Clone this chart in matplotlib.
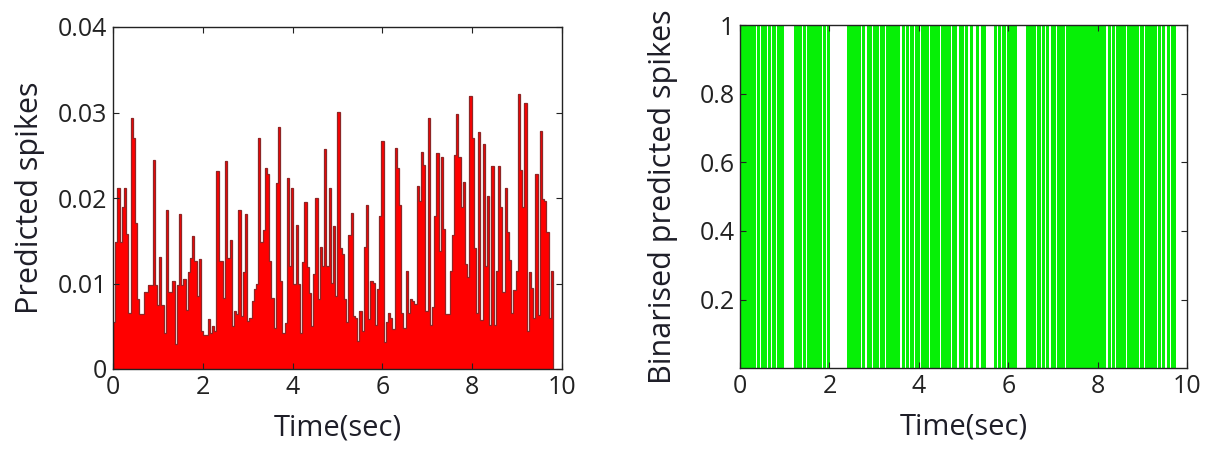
import matplotlib
matplotlib.use('Agg')
import matplotlib.pyplot as plt
import numpy as np

plt.rcParams['font.family'] = ['Open Sans', 'DejaVu Sans']

# sampling step of the prediction (sec)
dt = 0.049

# predicted spike rate per bin, in units of 1e-3
predicted_e3 = [
    5.5, 14.9, 21.2, 14.9, 19.0, 21.2, 15.8, 6.5, 29.4, 27.0,
    17.1, 8.2, 6.4, 6.4, 9.0, 9.0, 9.8, 9.8, 24.5, 9.8,
    7.5, 13.1, 7.5, 4.2, 18.6, 9.0, 9.0, 10.3, 2.9, 9.8,
    18.1, 9.8, 10.5, 6.9, 11.3, 13.0, 15.6, 12.6, 8.5, 12.9,
    4.4, 4.0, 4.0, 5.9, 4.2, 5.0, 4.5, 23.1, 12.6, 12.6,
    8.3, 24.3, 13.0, 15.1, 5.0, 6.8, 6.4, 18.6, 6.2, 11.3,
    18.1, 5.6, 6.0, 8.0, 9.3, 9.9, 27.0, 14.9, 16.2, 23.5,
    22.8, 12.6, 8.3, 4.8, 21.7, 28.3, 10.3, 4.2, 5.4, 22.3,
    12.1, 21.2, 9.9, 16.9, 10.0, 4.2, 12.5, 19.5, 11.9, 8.9,
    5.0, 11.1, 20.0, 8.2, 14.3, 12.0, 25.7, 12.0, 21.2, 10.1,
    16.7, 8.5, 30.1, 14.1, 13.4, 8.2, 5.5, 15.7, 18.3, 6.2,
    6.0, 3.3, 6.8, 4.5, 14.3, 19.2, 5.9, 10.3, 10.1, 5.2,
    9.4, 17.9, 26.7, 3.1, 5.5, 6.6, 6.0, 4.7, 25.8, 23.5,
    19.2, 6.6, 4.8, 11.5, 6.6, 8.2, 8.0, 7.6, 21.4, 19.7,
    25.4, 23.9, 6.8, 29.4, 5.2, 7.2, 17.9, 25.3, 13.8, 24.8,
    16.4, 6.4, 6.4, 11.5, 15.7, 25.0, 29.8, 24.8, 19.0, 21.9,
    12.3, 10.8, 31.9, 27.0, 14.1, 6.6, 27.7, 5.7, 26.3, 12.0,
    20.2, 5.2, 23.7, 5.2, 11.5, 23.7, 19.0, 9.0, 21.2, 16.0,
    12.8, 6.6, 9.2, 11.5, 32.2, 23.3, 19.0, 31.1, 4.5, 11.3,
    9.5, 6.0, 22.8, 6.3, 27.8, 19.9, 19.6, 16.0, 6.0, 11.5,
]

# bins where the binarised output is 0
silent_bins = [
    7, 9, 12, 14, 16, 20, 21, 22, 23, 24, 28, 30, 37, 39,
    41, 42, 43, 44, 45, 46, 47, 48, 55, 57, 60, 63, 66,
    73, 75, 77, 79, 82, 86, 91, 96, 99, 102, 104, 106, 107, 109,
    112, 113, 114, 115, 117, 119, 121, 126, 127, 128, 129, 130,
    135, 137, 139, 141, 144, 148, 167, 169, 171, 176, 182, 184,
    190, 192, 194, 196, 199,
]

y_ticks_left = [0, 0.01, 0.02, 0.03, 0.04]
y_labels_left = ['0', '0.01', '0.02', '0.03', '0.04']
y_ticks_right = [0.2, 0.4, 0.6, 0.8, 1.0]
y_labels_right = ['0.2', '0.4', '0.6', '0.8', '1']
x_ticks = [0, 2, 4, 6, 8, 10]

pred = np.array(predicted_e3) * 1e-3
n = len(pred)
edges = np.arange(n + 1) * dt
binary = np.ones(n)
binary[silent_bins] = 0

text_col = '#1e1e28'

fig = plt.figure(figsize=(12.18, 4.5), dpi=100)
ax1 = fig.add_axes([0.0928, 0.18, 0.3686, 0.76])
ax2 = fig.add_axes([0.6076, 0.182, 0.367, 0.762])

ax1.stairs(pred, edges, fill=True, color='#ff0000', linewidth=0)
ax1.stairs(pred, edges, color='#8e2626', linewidth=0.9)
ax1.set_ylim(0, 0.04)
ax1.set_yticks(y_ticks_left)
ax1.set_yticklabels(y_labels_left)
ax1.set_ylabel('Predicted spikes', fontsize=22, color=text_col, labelpad=9)

# bars a bit wider than a bin so single silent bins show as thin lines
ax2.bar(edges[:-1] + dt / 2, binary, width=dt * 1.45, color='#06f006', linewidth=0)
ax2.set_ylim(0, 1)
ax2.set_yticks(y_ticks_right)
ax2.set_yticklabels(y_labels_right)
ax2.set_ylabel('Binarised predicted spikes', fontsize=22, color=text_col, labelpad=15)

for ax in (ax1, ax2):
    ax.set_xlim(0, 10)
    ax.set_xticks(x_ticks)
    ax.set_xlabel('Time(sec)', fontsize=21, color=text_col, labelpad=10)
    ax.tick_params(direction='in', top=True, right=True, length=4, width=0.8,
                   labelsize=18, colors='#222222', labelcolor='#222222', pad=4)
    for s in ax.spines.values():
        s.set_linewidth(1.0)
        s.set_color('#222222')

fig.savefig('out.png', dpi=100)
